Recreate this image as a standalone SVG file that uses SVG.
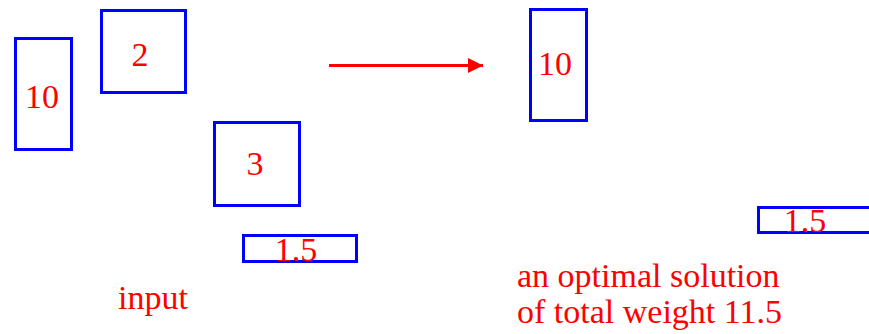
<svg xmlns="http://www.w3.org/2000/svg" width="869" height="334" viewBox="0 0 869 334">
<style>
.box{fill:none;stroke:#0000ff;stroke-width:3}
.t{font-family:"Liberation Serif","Times New Roman",serif;font-size:34px;fill:#ff0000;text-anchor:middle}
.tl{font-family:"Liberation Serif","Times New Roman",serif;font-size:34px;fill:#ff0000}
</style>
<defs>
<marker id="ah" markerWidth="5" markerHeight="5" refX="5" refY="2.5" orient="auto" markerUnits="strokeWidth">
<path d="M0,0 L5,2.5 L0,5 Z" fill="#ff0000"/>
</marker>
</defs>
<rect width="869" height="334" fill="#ffffff"/>
<g id="in10"><rect class="box" x="15.5" y="38.5" width="56" height="111"/><text class="t" x="42" y="108">10</text></g>
<g id="in2"><rect class="box" x="101.5" y="10.5" width="84" height="82"/><text class="t" x="140" y="66">2</text></g>
<g id="in3"><rect class="box" x="214.5" y="122.5" width="85" height="83"/><text class="t" x="255" y="175">3</text></g>
<g id="in15"><rect class="box" x="243.5" y="235.5" width="113" height="26"/><text class="t" x="296" y="261">1.5</text></g>
<g id="out10"><rect class="box" x="530.5" y="9.5" width="56" height="111"/><text class="t" x="555" y="75">10</text></g>
<g id="out15"><rect class="box" x="758.5" y="207.5" width="113" height="25"/><text class="t" x="805" y="232">1.5</text></g>
<g id="connectors"><line x1="329" y1="65.5" x2="483" y2="65.5" stroke="#ff0000" stroke-width="3" marker-end="url(#ah)"/></g>
<g id="labels">
<text class="t" x="153" y="309">input</text>
<text class="tl" x="517" y="287">an optimal solution</text>
<text class="tl" x="517" y="323">of total weight 11.5</text>
</g>
</svg>
